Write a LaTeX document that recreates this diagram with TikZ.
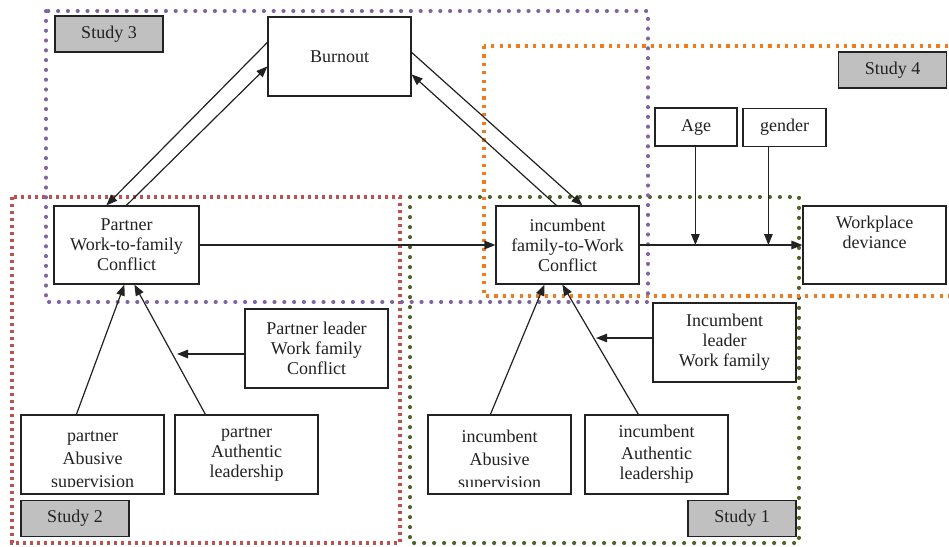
\documentclass[tikz,border=0pt]{standalone}
\usepackage{fontspec}
\setmainfont{Liberation Serif}
\usetikzlibrary{arrows.meta,calc}
\definecolor{frpurple}{HTML}{8064A2}
\definecolor{frred}{HTML}{C0504D}
\definecolor{frgreen}{HTML}{4F6228}
\definecolor{frorange}{HTML}{F07A1E}
\definecolor{tagfill}{HTML}{C0C0C0}
\definecolor{ink}{HTML}{222222}
\begin{document}
\begin{tikzpicture}[x=1pt,y=-1pt,
  box/.style={draw=ink,line width=1.2pt,fill=white,align=center,inner sep=0pt,
    minimum width=143pt,minimum height=79pt,text=ink,
    font=\fontsize{18}{20}\selectfont},
  smallbox/.style={box,minimum width=82pt,minimum height=38pt},
  tag/.style={box,fill=tagfill,minimum width=108pt,minimum height=36pt},
  txt/.style={align=center,inner sep=0pt,text=ink,font=\fontsize{18}{20}\selectfont},
  link/.style={line width=1.2pt,draw=ink,-{Triangle[length=11pt,width=8.5pt]}},
  dotround/.style={line width=4pt,line cap=round,dash pattern=on 0.2pt off #1},
  dotsquare/.style={line width=3.2pt,dash pattern=on 3.2pt off #1},
]
\clip (0,0) rectangle (949,546);
\fill[white] (0,0) rectangle (949,546);

% study frames
\draw[frred,dotsquare=3.8pt] (12,197) rectangle (400,543);
\draw[frgreen,dotround=9.8pt] (410,197) rectangle (799,543);
\draw[frorange,dotsquare=5.2pt] (484,46) rectangle (970,296);
\draw[frpurple,dotround=9.6pt] (46,11) rectangle (648,302);

% study tags
\node[tag] (s3) at (109,34) {Study 3};
\node[tag] (s4) at (892.5,70) {Study 4};
\node[tag] (s2) at (75,518.5) {Study 2};
\node[tag] (s1) at (742,518.5) {Study 1};

% variables
\node[box] (burnout) at (339.5,56.5) {Burnout};
\node[box,minimum width=145pt,minimum height=78pt] (pwfc) at (126.5,245) {Partner\\Work-to-family\\Conflict};
\node[box,minimum height=78pt] (ifwc) at (567.5,245) {incumbent\\family-to-Work\\Conflict};
\node[box,minimum height=78pt] (wd) at (874.5,245) {Workplace\\deviance\\\strut};
\node[smallbox] (age) at (696,127) {Age};
\node[smallbox,minimum width=83pt] (gender) at (784.5,127.5) {gender};
\node[box] (pleader) at (316.5,348.5) {Partner leader\\Work family\\Conflict};
\node[box] (ileader) at (724.5,342.5) {Incumbent\\leader\\Work family};
\node[box] (pabuse) at (92.5,454.5) {};
\node[box] (pauth) at (246.5,454.5) {partner\\Authentic\\leadership};
\node[box] (iabuse) at (499.5,454.5) {};
\node[box] (iauth) at (656.5,454.5) {incumbent\\[2pt]Authentic\\leadership};

% the last line of the abusive-supervision boxes is cut off at the bottom
\begin{scope}
  \clip ($(pabuse.north west)+(1,1)$) rectangle ($(pabuse.south east)+(-1,-8)$);
  \node[txt] (pabusetext) at (92.5,461) {partner\\[3pt]Abusive\\[3pt]supervision};
\end{scope}
\begin{scope}
  \clip ($(iabuse.north west)+(1,1)$) rectangle ($(iabuse.south east)+(-1,-8)$);
  \node[txt] (iabusetext) at (499.5,461) {incumbent\\[3pt]Abusive\\[3pt]supervision};
\end{scope}

% burnout loops
\draw[link] ($(burnout.north west)+(0,26)$) -- ($(pwfc.north west)+(53,0)$);
\draw[link] ($(pwfc.north west)+(73,0)$) -- ($(burnout.north west)+(0,50)$);
\draw[link] ($(burnout.north east)+(0,36)$) -- ($(ifwc.north west)+(87,0)$);
\draw[link] ($(ifwc.north west)+(61,0)$) -- ($(burnout.north east)+(0,58)$);

% main path
\draw[link] (pwfc.east) -- (ifwc.west);
\draw[link] (ifwc.east) -- (wd.west);
\coordinate (agefoot) at ($(age.south west)+(41,0)$);
\coordinate (genderfoot) at ($(gender.south west)+(26,0)$);
\draw[link] (agefoot) -- (agefoot |- ifwc.east);
\draw[link] (genderfoot) -- (genderfoot |- ifwc.east);

% partner antecedents
\draw[link] ($(pabuse.north west)+(56,0)$) -- ($(pwfc.south west)+(71,0)$);
\draw[link] ($(pauth.north west)+(31,0)$) -- ($(pwfc.south west)+(81,0)$);
\coordinate (pmod) at (177,354);
\draw[link] (pleader.west |- pmod) -- (pmod);

% incumbent antecedents
\draw[link] ($(iabuse.north west)+(63,0)$) -- ($(ifwc.south west)+(49,0)$);
\draw[link] ($(iauth.north west)+(54,0)$) -- ($(ifwc.south west)+(67,0)$);
\coordinate (imod) at (596,338);
\draw[link] (ileader.west |- imod) -- (imod);
\end{tikzpicture}
\end{document}
